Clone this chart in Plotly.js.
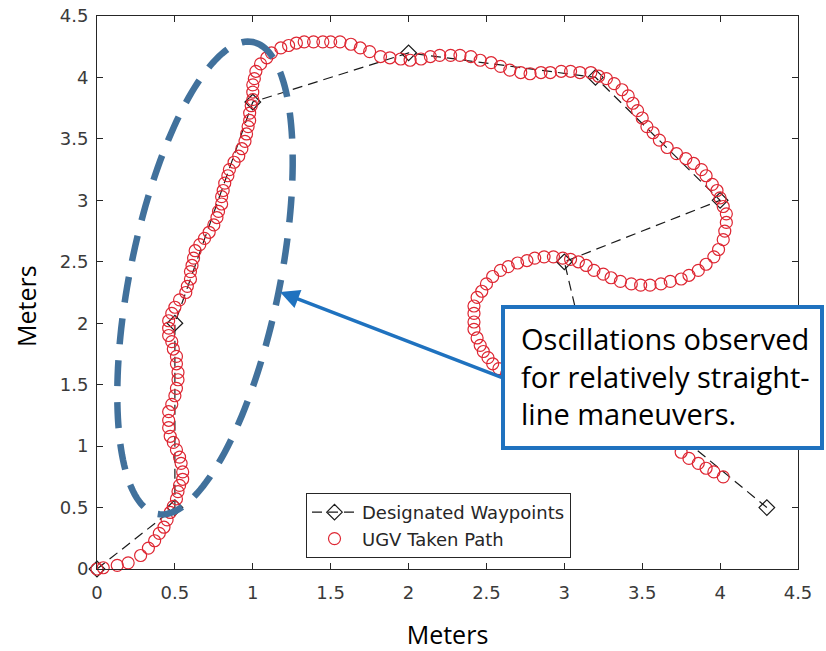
<!DOCTYPE html>
<html>
<head>
<meta charset="utf-8">
<script src="https://cdn.plot.ly/plotly-3.0.1.min.js"></script>
<style>
  html, body { margin: 0; padding: 0; background: #ffffff; }
  #chart { width: 826px; height: 651px; }
</style>
</head>
<body>
<div id="chart"></div>
<script>
// ---------------- DATA ----------------
const waypointX = [0, 0.5, 0.5, 1.0, 2.0, 3.2, 4.0, 3.0, 3.15, 4.3];
const waypointY = [0, 0.5, 2.0, 3.8, 4.2, 4.0, 3.0, 2.5, 1.7, 0.5];

const pathX = [
  0.00, 0.04, 0.13, 0.20, 0.28, 0.33, 0.37, 0.40, 0.43, 0.45, 0.47, 0.49, 0.51, 0.52, 0.53, 0.55,
  0.55, 0.54, 0.53, 0.51, 0.49, 0.47, 0.46, 0.46, 0.46, 0.48, 0.50, 0.51, 0.52, 0.52, 0.51, 0.51,
  0.49, 0.48, 0.46, 0.46, 0.46, 0.48, 0.50, 0.53, 0.57, 0.58, 0.60, 0.60, 0.61, 0.62, 0.63, 0.66,
  0.69, 0.72, 0.75, 0.77, 0.78, 0.80, 0.80, 0.81, 0.82, 0.84, 0.85, 0.88, 0.91, 0.93, 0.95, 0.96,
  0.97, 0.98, 0.98, 0.99, 1.00, 1.00, 1.00, 1.01, 1.02, 1.05, 1.09, 1.12, 1.18, 1.23, 1.28, 1.33,
  1.39, 1.45, 1.50, 1.56, 1.63, 1.69, 1.75, 1.82, 1.88, 1.95, 2.01, 2.08, 2.14, 2.20, 2.27, 2.33,
  2.40, 2.46, 2.53, 2.59, 2.65, 2.72, 2.78, 2.85, 2.91, 2.98, 3.04, 3.10, 3.17, 3.22, 3.27, 3.32,
  3.37, 3.41, 3.44, 3.47, 3.50, 3.53, 3.57, 3.61, 3.66, 3.72, 3.78, 3.83, 3.88, 3.91, 3.95, 3.98,
  4.00, 4.02, 4.04, 4.04, 4.03, 4.02, 3.99, 3.96, 3.91, 3.86, 3.80, 3.75, 3.68, 3.62, 3.55, 3.49,
  3.43, 3.36, 3.30, 3.25, 3.19, 3.14, 3.09, 3.04, 2.99, 2.93, 2.87, 2.81, 2.76, 2.70, 2.64, 2.59,
  2.54, 2.50, 2.47, 2.44, 2.42, 2.42, 2.42, 2.42, 2.44, 2.46, 2.48, 2.51, 2.54, 2.58,
  2.63, 2.69, 2.76, 2.84, 2.92, 3.01, 3.09, 3.17, 3.26, 3.34, 3.43, 3.51, 3.59,
  3.75, 3.80, 3.86, 3.91, 3.96, 4.02
];
const pathY = [
  0.00, 0.01, 0.03, 0.05, 0.11, 0.17, 0.23, 0.29, 0.34, 0.40, 0.46, 0.51, 0.57, 0.63, 0.68, 0.73,
  0.79, 0.86, 0.91, 0.97, 1.03, 1.08, 1.15, 1.21, 1.28, 1.34, 1.41, 1.47, 1.54, 1.60, 1.67, 1.73,
  1.79, 1.85, 1.90, 1.96, 2.02, 2.08, 2.13, 2.19, 2.25, 2.30, 2.36, 2.42, 2.47, 2.53, 2.59, 2.64,
  2.69, 2.74, 2.80, 2.86, 2.91, 2.97, 3.03, 3.08, 3.14, 3.20, 3.25, 3.31, 3.36, 3.42, 3.48, 3.54,
  3.60, 3.65, 3.71, 3.77, 3.82, 3.88, 3.94, 3.99, 4.05, 4.11, 4.16, 4.20, 4.24, 4.26, 4.28, 4.29,
  4.29, 4.29, 4.29, 4.29, 4.27, 4.24, 4.21, 4.17, 4.16, 4.15, 4.14, 4.15, 4.17, 4.18, 4.18, 4.18,
  4.17, 4.14, 4.12, 4.09, 4.06, 4.04, 4.03, 4.04, 4.04, 4.05, 4.05, 4.04, 4.04, 4.01, 3.99, 3.95,
  3.90, 3.85, 3.79, 3.73, 3.67, 3.60, 3.55, 3.49, 3.43, 3.38, 3.34, 3.30, 3.25, 3.20, 3.13, 3.08,
  3.02, 2.95, 2.89, 2.82, 2.75, 2.68, 2.60, 2.54, 2.48, 2.43, 2.39, 2.36, 2.34, 2.32, 2.31, 2.31,
  2.32, 2.34, 2.37, 2.40, 2.43, 2.47, 2.50, 2.52, 2.53, 2.54, 2.54, 2.53, 2.51, 2.49, 2.46, 2.43,
  2.38, 2.32, 2.26, 2.21, 2.14, 2.08, 2.01, 1.95, 1.88, 1.82, 1.77, 1.72, 1.67, 1.63,
  1.59, 1.53, 1.47, 1.43, 1.38, 1.33, 1.28, 1.23, 1.18, 1.14, 1.11, 1.08, 1.05,
  0.95, 0.90, 0.86, 0.82, 0.79, 0.75
];

const xTickVals = [0, 0.5, 1, 1.5, 2, 2.5, 3, 3.5, 4, 4.5];
const xTickText = ['0', '0.5', '1', '1.5', '2', '2.5', '3', '3.5', '4', '4.5'];
const yTickVals = [0, 0.5, 1, 1.5, 2, 2.5, 3, 3.5, 4, 4.5];
const yTickText = ['0', '0.5', '1', '1.5', '2', '2.5', '3', '3.5', '4', '4.5'];

const legendNames = ['Designated Waypoints', 'UGV Taken Path'];
const axisTitle = 'Meters';
const calloutText = 'Oscillations observed<br>for relatively straight-<br>line maneuvers.';

// ---------------- LAYOUT GEOMETRY ----------------
const W = 826, H = 651;
const mL = 97, mR = 28, mT = 16, mB = 82;
const pw = W - mL - mR, ph = H - mT - mB;
const xRange = [0, 4.5], yRange = [0, 4.5];
const sx = pw / (xRange[1] - xRange[0]);
const sy = ph / (yRange[1] - yRange[0]);
function pxToData(px, py) {
  return [(px - mL) / sx + xRange[0], (H - mB - py) / sy + yRange[0]];
}
function pxToPaper(px, py) {
  return [(px - mL) / pw, (H - mB - py) / ph];
}

// tilted dashed ellipse (annotation), defined in pixel space
const ec = [205, 278], ea = 241, eb = 75;
const eu = [0.199, -0.979], ev = [0.979, 0.199];
let ePath = '';
for (let i = 0; i <= 180; i++) {
  const t = (i / 180) * 2 * Math.PI;
  const px = ec[0] + ea * Math.cos(t) * eu[0] + eb * Math.sin(t) * ev[0];
  const py = ec[1] + ea * Math.cos(t) * eu[1] + eb * Math.sin(t) * ev[1];
  const d = pxToData(px, py);
  ePath += (i === 0 ? 'M' : 'L') + d[0].toFixed(4) + ',' + d[1].toFixed(4);
}
ePath += 'Z';

const boxTL = pxToPaper(503, 307), boxBR = pxToPaper(822, 448);
const textPos = pxToPaper(519, 376);
const arrowTip = pxToData(280, 292);
const arrowTail = [503, 378];
const yTitlePos = pxToPaper(26, 306);

const traces = [
  {
    x: waypointX, y: waypointY,
    type: 'scatter', mode: 'lines+markers',
    name: legendNames[0],
    line: { color: '#1a1a1a', width: 1.2, dash: '10px,6px' },
    marker: { symbol: 'diamond-open', size: 12, color: '#1a1a1a', line: { width: 1.2, color: '#1a1a1a' } },
    cliponaxis: false
  },
  {
    x: pathX, y: pathY,
    type: 'scatter', mode: 'markers',
    name: legendNames[1],
    marker: { symbol: 'circle-open', size: 12, color: 'rgb(222,38,50)', line: { width: 1.2, color: 'rgb(222,38,50)' } },
    cliponaxis: false
  }
];

const axisCommon = {
  showgrid: false, zeroline: false,
  showline: true, linecolor: '#262626', linewidth: 1,
  mirror: 'ticks', ticks: 'inside', ticklen: 6, tickwidth: 1, tickcolor: '#262626',
  tickfont: { family: 'DejaVu Sans', size: 18, color: '#3a3a3a' },
  fixedrange: true
};

const layout = {
  width: W, height: H,
  margin: { l: mL, r: mR, t: mT, b: mB },
  paper_bgcolor: '#ffffff', plot_bgcolor: '#ffffff',
  showlegend: true,
  xaxis: Object.assign({}, axisCommon, {
    range: xRange, tickmode: 'array', tickvals: xTickVals, ticktext: xTickText,
    ticklabelstandoff: 7,
    title: { text: axisTitle, font: { family: 'Open Sans', size: 25, color: '#000000' }, standoff: 25 }
  }),
  yaxis: Object.assign({}, axisCommon, {
    range: yRange, tickmode: 'array', tickvals: yTickVals, ticktext: yTickText,
    ticklabelstandoff: 4,
    title: { text: '' }
  }),
  legend: {
    x: pxToPaper(306, 493)[0], y: pxToPaper(306, 493)[1],
    xanchor: 'left', yanchor: 'top',
    bgcolor: '#ffffff', bordercolor: '#262626', borderwidth: 1,
    font: { family: 'DejaVu Sans', size: 18, color: '#262626' },
    itemwidth: 45, tracegroupgap: 0
  },
  shapes: [
    {
      type: 'path', path: ePath, xref: 'x', yref: 'y', layer: 'above',
      line: { color: '#41719C', width: 6.5, dash: '26px,16px' }
    },
    {
      type: 'rect', xref: 'paper', yref: 'paper', layer: 'above',
      x0: boxTL[0], y0: boxBR[1], x1: boxBR[0], y1: boxTL[1],
      fillcolor: '#ffffff', line: { color: '#1F72BF', width: 4 }
    }
  ],
  annotations: [
    {
      xref: 'paper', yref: 'paper', x: yTitlePos[0], y: yTitlePos[1],
      xanchor: 'center', yanchor: 'middle', textangle: -90, showarrow: false,
      text: axisTitle,
      font: { family: 'Open Sans', size: 25, color: '#000000' }
    },
    {
      xref: 'x', yref: 'y', x: arrowTip[0], y: arrowTip[1],
      ax: arrowTail[0] - 280, ay: arrowTail[1] - 292,
      text: '', showarrow: true, arrowhead: 2, arrowsize: 1.1, arrowwidth: 3.5,
      arrowcolor: '#1F72BF', standoff: 0
    },
    {
      xref: 'paper', yref: 'paper', x: textPos[0], y: textPos[1],
      xanchor: 'left', yanchor: 'middle', align: 'left', showarrow: false,
      text: calloutText,
      font: { family: 'Open Sans', size: 29, color: '#000000' }
    }
  ]
};

Plotly.newPlot('chart', traces, layout, { displayModeBar: false, staticPlot: true });
</script>
</body>
</html>
